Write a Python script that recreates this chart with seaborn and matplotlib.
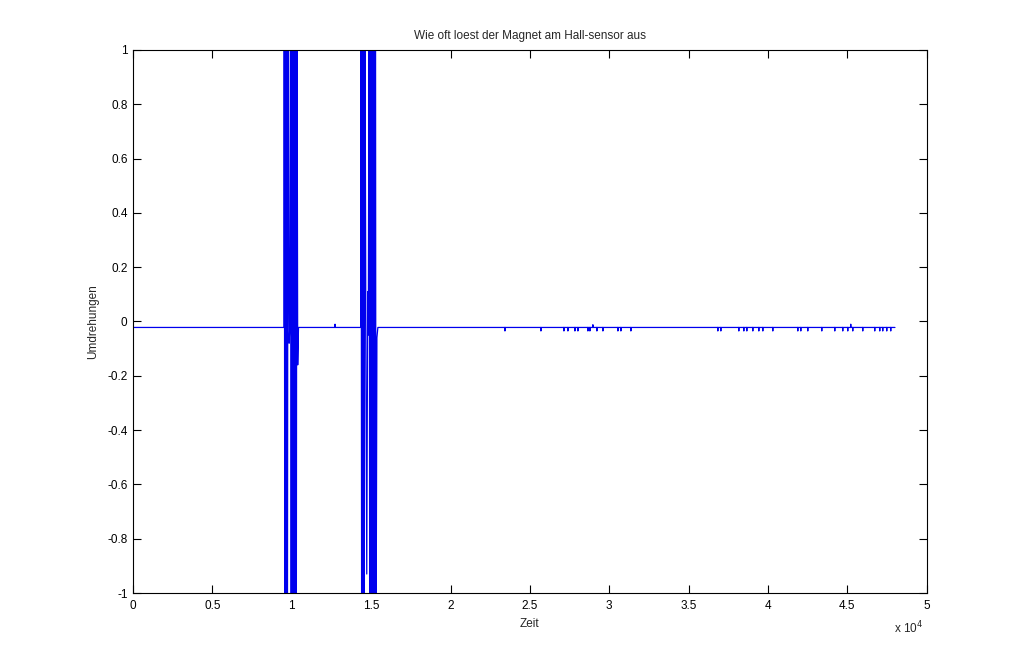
import numpy as np
import pandas as pd
import matplotlib
matplotlib.use("Agg")
import matplotlib.pyplot as plt
import seaborn as sns

# data
base_level = -0.022
t_end = 48000

# first burst of triggers
burst1_t = [9500, 9520, 9560, 9600, 9640, 9680, 9720, 9760, 9800, 9830, 9870,
            9920, 9960, 10000, 10040, 10080, 10120, 10160, 10200, 10240, 10280,
            10320, 10370, 10420]
burst1_v = [-0.022, 1.4, -1.4, 1.4, -1.4, 1.4, -1.4, 1.3, 0.28, -0.08, -0.02,
            1.4, -1.4, 1.4, -1.4, 1.4, -1.4, 1.4, -1.4, 1.4, -1.4,
            1.4, -0.16, -0.022]

# second burst of triggers
burst2_t = [14340, 14360, 14400, 14440, 14480, 14520, 14560, 14600, 14660,
            14720, 14780, 14820, 14870, 14910, 14950, 14990, 15030, 15070,
            15110, 15150, 15190, 15230, 15270, 15300, 15360, 15420]
burst2_v = [-0.022, 1.4, -1.4, 1.4, -1.4, 1.4, -1.4, 1.4, 0.0,
            -0.93, 0.11, -0.05, 1.4, -1.4, 1.4, -1.4, 1.4, -1.4,
            1.4, -1.4, 1.4, -1.4, 1.4, -1.4, -0.06, -0.022]

# small single spikes on the baseline
spike_t = [12720, 23426, 25693, 27141, 27393, 27834, 28023, 28652, 28778, 28967,
           29219, 29597, 30542, 30730, 31360, 36839, 37028, 38161, 38476, 38665,
           39043, 39421, 39673, 40302, 41877, 42066, 42506, 43388, 44207, 44710,
           45025, 45214, 45340, 45970, 46725, 47040, 47229, 47481, 47733]
spike_v = [-0.01, -0.035, -0.035, -0.035, -0.035, -0.035, -0.035, -0.035, -0.035, -0.012,
           -0.035, -0.035, -0.035, -0.035, -0.035, -0.035, -0.035, -0.035, -0.035, -0.035,
           -0.035, -0.035, -0.035, -0.035, -0.035, -0.035, -0.035, -0.035, -0.035, -0.035,
           -0.035, -0.01, -0.035, -0.035, -0.035, -0.035, -0.035, -0.035, -0.035]

x_ticks = [0, 5000, 10000, 15000, 20000, 25000, 30000, 35000, 40000, 45000, 50000]
x_labels = ['0', '0.5', '1', '1.5', '2', '2.5', '3', '3.5', '4', '4.5', '5']
y_ticks = [-1, -0.8, -0.6, -0.4, -0.2, 0, 0.2, 0.4, 0.6, 0.8, 1]
y_labels = ['-1', '-0.8', '-0.6', '-0.4', '-0.2', '0', '0.2', '0.4', '0.6', '0.8', '1']

# build the full signal
t_all = [0] + burst1_t + burst2_t + [t_end]
v_all = [base_level] + burst1_v + burst2_v + [base_level]
for st, sv in zip(spike_t, spike_v):
    t_all += [st - 3, st, st + 3]
    v_all += [base_level, sv, base_level]
df = pd.DataFrame({'Zeit': t_all, 'Umdrehungen': v_all}).sort_values('Zeit')

# style
sns.set_style("ticks")
plt.rcParams['font.family'] = ['Liberation Sans', 'DejaVu Sans']

fig = plt.figure(figsize=(10.24, 6.66), dpi=100)
ax = fig.add_axes([0.130, 0.1096, 0.775, 0.8154])
sns.lineplot(data=df, x='Zeit', y='Umdrehungen', color='#0000ee',
             linewidth=0.9, estimator=None, sort=False, ax=ax)

ax.set_xlim(0, 50000)
ax.set_ylim(-1, 1)
ax.set_xticks(x_ticks)
ax.set_xticklabels(x_labels)
ax.set_yticks(y_ticks)
ax.set_yticklabels(y_labels)
ax.tick_params(direction='in', length=6, width=0.8, top=True, right=True,
               labelsize=8.5, colors='black')
ax.tick_params(axis='x', pad=5)
ax.tick_params(axis='y', pad=4)
for s in ax.spines.values():
    s.set_linewidth(0.8)
    s.set_color('black')

ax.set_title('Wie oft loest der Magnet am Hall-sensor aus', fontsize=8.5, pad=8)
ax.set_xlabel('Zeit', fontsize=8.5, labelpad=4)
ax.set_ylabel('Umdrehungen', fontsize=8.5, labelpad=6)
ax.text(0.995, -0.064, 'x 10$^{4}$', transform=ax.transAxes, fontsize=8.5,
        ha='right', va='center')

fig.savefig('out.png', dpi=100, facecolor='white')
